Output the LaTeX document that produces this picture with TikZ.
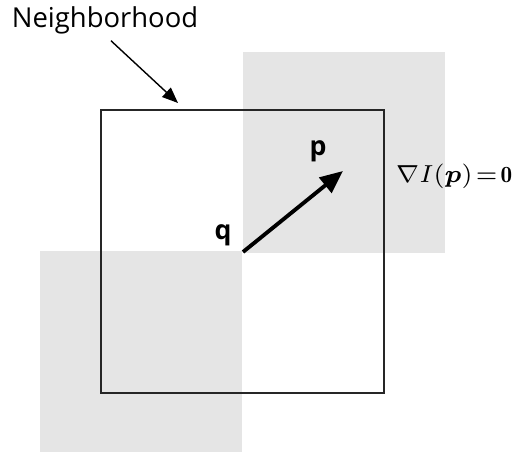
\documentclass[tikz,border=0pt]{standalone}
\usepackage{amsmath,amssymb}
\usepackage{bm}
\usepackage{fontspec}
\usepackage{tikz}
\usetikzlibrary{arrows.meta,positioning}
\newfontfamily\labelfont{Open Sans}
\definecolor{patchgray}{RGB}{229,229,229}

\begin{document}
\begin{tikzpicture}[x=0.01cm,y=-0.01cm]
    \tikzset{patch/.style={fill=patchgray,draw=none},
      nbhbox/.style={draw=black!85,line width=0.55pt},
      lbl/.style={font=\labelfont\fontsize{7.8}{9}\selectfont,inner sep=0pt},
      pt/.style={font=\labelfont\bfseries\fontsize{7.6}{9}\selectfont,inner sep=0pt}}
    \useasboundingbox (0,0) rectangle (524,452);
    % shifted patches
    \foreach \x/\y in {40/251,243/52}{
      \fill[patch] (\x,\y) rectangle ++(202,201);
    }
    % neighborhood window
    \draw[nbhbox] (101,110) rectangle (384,393);
    \coordinate (q) at (243,252);
    \coordinate (p) at (343,171);
    \coordinate (top) at (178,103);
    \node[lbl] (nbh) at (105,20) {Neighborhood};
    \node[pt] (qlbl) at (223,235) {q};
    \node[pt] (plbl) at (318,151) {p};
    \node[inner sep=0pt,font=\fontsize{6.6}{8}\selectfont] (grad) at (454,176) {$\nabla I(\bm{p})\!=\!\mathbf{0}$};
    \draw[line width=0.4pt,-{Triangle[length=4.5pt,width=3.6pt]}] ([xshift=1.7pt,yshift=-1.8pt]nbh.south) -- (top);
    \draw[line width=1.1pt,-{Triangle[length=6.5pt,width=5.5pt]}] (q) -- (p);
  \end{tikzpicture}
\end{document}
